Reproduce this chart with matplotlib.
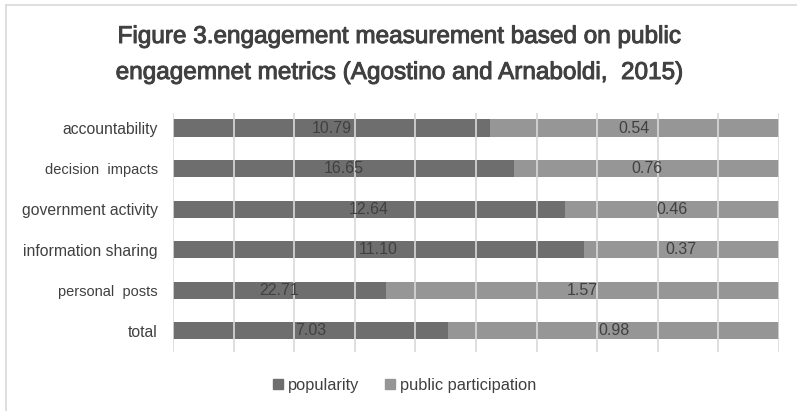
import matplotlib.pyplot as plt
import matplotlib.patheffects as pe
import numpy as np

categories = ['accountability', 'decision  impacts', 'government activity',
              'information sharing', 'personal  posts', 'total']
# share of each bar taken by the dark segment (%)
popularity_share = [52.3, 56.3, 64.7, 67.8, 35.1, 45.4]
participation_share = [100 - v for v in popularity_share]
# numbers printed on the bars
popularity_labels = ['10.79', '16.65', '12.64', '11.10', '22.71', '7.03']
participation_labels = ['0.54', '0.76', '0.46', '0.37', '1.57', '0.98']

dark = '#6e6e6e'
light = '#969696'
text_c = '#404040'
main_font = ['Liberation Sans', 'DejaVu Sans']

fig = plt.figure(figsize=(7.97, 4.11), dpi=100)
ax = fig.add_axes([173 / 797, 1 - 352 / 411, 606 / 797, 239 / 411])

y = np.arange(len(categories))[::-1]
h = 0.42
ax.barh(y, popularity_share, height=h, color=dark, zorder=1)
ax.barh(y, participation_share, left=popularity_share, height=h, color=light, zorder=1)

for yi, p, q, lp, lq in zip(y, popularity_share, participation_share,
                            popularity_labels, participation_labels):
    ax.text(p / 2, yi, lp, ha='center', va='center', fontsize=11.5,
            color=text_c, family=main_font, zorder=3)
    ax.text(p + q / 2, yi, lq, ha='center', va='center', fontsize=11.5,
            color=text_c, family=main_font, zorder=3)

ax.set_xlim(0, 100)
ax.set_ylim(-0.52, 5.37)
ax.set_xticks(np.arange(0, 101, 10))
ax.grid(axis='x', color='#d9d9d9', linewidth=1.2, zorder=2)
ax.set_axisbelow(False)
ax.tick_params(axis='x', length=0, labelbottom=False)
ax.tick_params(axis='y', length=0, pad=11)
ax.set_yticks(y)
ax.set_yticklabels(categories, fontsize=11.3, color=text_c, family=main_font)
for lbl in ax.get_yticklabels():
    if '  ' in lbl.get_text():
        lbl.set_fontsize(10.5)
for s in ax.spines.values():
    s.set_visible(False)

title_fx = [pe.withStroke(linewidth=0.7, foreground=text_c)]
fig.text(0.5, 1 - 37 / 411, 'Figure 3.engagement measurement based on public',
         ha='center', va='center', fontsize=17.5, color=text_c, family=main_font,
         path_effects=title_fx)
fig.text(0.5, 1 - 73 / 411, 'engagemnet metrics (Agostino and Arnaboldi,  2015)',
         ha='center', va='center', fontsize=17.5, color=text_c, family=main_font,
         path_effects=title_fx)

handles = [plt.Rectangle((0, 0), 1, 1, color=dark), plt.Rectangle((0, 0), 1, 1, color=light)]
fig.legend(handles, ['popularity', 'public participation'], loc='center',
           bbox_to_anchor=(0.5 + 6 / 797, 1 - 385 / 411), ncol=2, frameon=False,
           prop={'family': main_font, 'size': 11.8}, handlelength=0.6, handleheight=0.6,
           handletextpad=0.3, columnspacing=1.6, labelcolor=text_c)

# chart border
fig.add_artist(plt.Line2D([6 / 797, 6 / 797], [0, 1 - 5 / 411], color='#d9d9d9', lw=1.2))
fig.add_artist(plt.Line2D([6 / 797, 1], [1 - 5 / 411, 1 - 5 / 411], color='#d9d9d9', lw=1.2))

fig.savefig('out.png', dpi=100)
